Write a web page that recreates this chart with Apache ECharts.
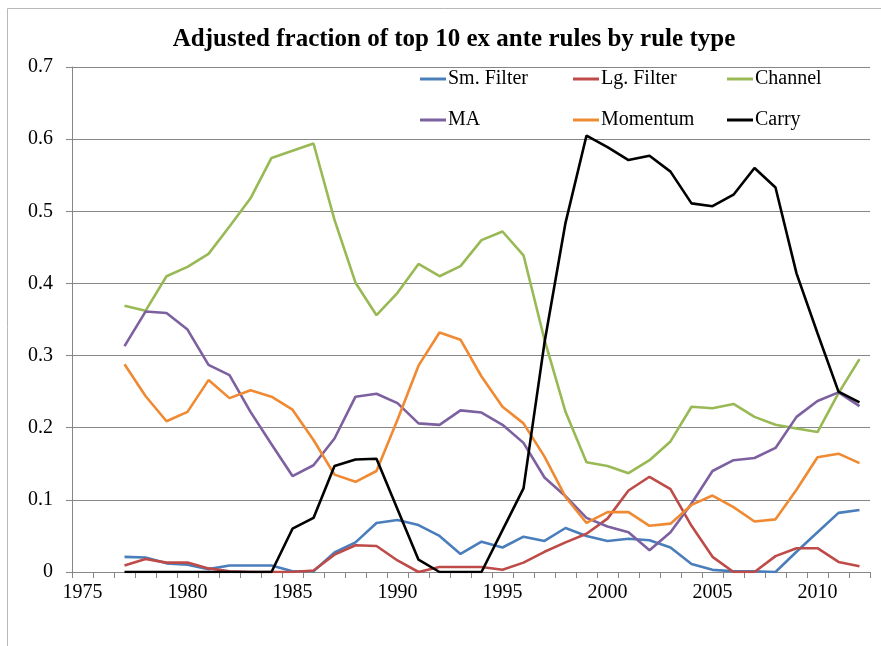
<!DOCTYPE html>
<html>
<head>
<meta charset="utf-8">
<script src="https://cdn.jsdelivr.net/npm/echarts@6/dist/echarts.min.js"></script>
<style>
  html, body { margin: 0; padding: 0; background: #fff; }
  #chart { width: 881px; height: 646px; }
</style>
</head>
<body>
<div id="chart"></div>
<script>
// 年份 (1975-2012), 1975/1976 无数据
var years = [];
for (var y = 1975; y <= 2012; y++) years.push(String(y));

var smFilter = ['-', '-', 0.021, 0.020, 0.012, 0.010, 0.004, 0.009, 0.009, 0.009, 0.001, 0.001, 0.027, 0.041,
  0.068, 0.072, 0.065, 0.050, 0.025, 0.042, 0.034, 0.049, 0.043, 0.061, 0.050, 0.043, 0.046, 0.044,
  0.034, 0.011, 0.003, 0.001, 0.001, 0.000, 0.028, 0.055, 0.082, 0.086];
var lgFilter = ['-', '-', 0.009, 0.018, 0.013, 0.013, 0.005, 0.001, 0.000, 0.000, 0.000, 0.002, 0.024, 0.037,
  0.036, 0.016, 0.000, 0.007, 0.007, 0.007, 0.003, 0.013, 0.028, 0.041, 0.053, 0.074, 0.113, 0.132,
  0.115, 0.064, 0.021, 0.000, 0.000, 0.022, 0.033, 0.033, 0.014, 0.008];
var channel = ['-', '-', 0.369, 0.362, 0.410, 0.423, 0.441, 0.479, 0.518, 0.574, 0.584, 0.594, 0.488, 0.401,
  0.356, 0.387, 0.427, 0.410, 0.424, 0.460, 0.472, 0.439, 0.322, 0.222, 0.152, 0.147, 0.137, 0.155,
  0.181, 0.229, 0.227, 0.233, 0.215, 0.204, 0.199, 0.194, 0.248, 0.295];
var ma = ['-', '-', 0.313, 0.361, 0.359, 0.336, 0.287, 0.273, 0.222, 0.177, 0.133, 0.148, 0.185, 0.243,
  0.247, 0.234, 0.206, 0.204, 0.224, 0.221, 0.204, 0.179, 0.131, 0.105, 0.075, 0.063, 0.055, 0.030,
  0.055, 0.095, 0.140, 0.155, 0.158, 0.172, 0.215, 0.237, 0.249, 0.230];
var momentum = ['-', '-', 0.288, 0.244, 0.209, 0.222, 0.266, 0.241, 0.252, 0.243, 0.225, 0.183, 0.135, 0.125,
  0.140, 0.211, 0.286, 0.332, 0.322, 0.271, 0.229, 0.206, 0.160, 0.104, 0.068, 0.083, 0.083, 0.064,
  0.067, 0.093, 0.106, 0.090, 0.070, 0.073, 0.114, 0.159, 0.164, 0.151];
var carry = ['-', '-', 0, 0, 0, 0, 0, 0, 0, 0, 0.060, 0.075, 0.147, 0.156,
  0.157, 0.087, 0.017, 0, 0, 0, 0.058, 0.116, 0.318, 0.484, 0.605, 0.589, 0.571, 0.577,
  0.555, 0.511, 0.507, 0.523, 0.560, 0.533, 0.414, 0.331, 0.250, 0.235];

var seriesNames = ['Sm. Filter', 'Lg. Filter', 'Channel', 'MA', 'Momentum', 'Carry'];
var seriesData = [smFilter, lgFilter, channel, ma, momentum, carry];
var colors = ['#4a7ebb', '#be4b48', '#98b954', '#7d60a0', '#f08a32', '#000000'];

var serif = '"Liberation Serif", "Times New Roman", serif';

// 图例位置 (两行三列)
var legendPos = [[420, 69], [573, 69], [727, 69], [420, 110], [573, 110], [727, 110]];

var chart = echarts.init(document.getElementById('chart'));
chart.setOption({
  animation: false,
  color: colors,
  title: {
    text: 'Adjusted fraction of top 10 ex ante rules by rule type',
    left: 449,
    textAlign: 'center',
    top: 22,
    textStyle: { fontFamily: serif, fontSize: 25, fontWeight: 'bold', color: '#000' }
  },
  legend: seriesNames.map(function (n, i) {
    return {
      data: [n],
      left: legendPos[i][0],
      top: legendPos[i][1],
      padding: 0,
      icon: 'rect',
      itemWidth: 26,
      itemHeight: 3,
      textStyle: { fontFamily: serif, fontSize: 20, color: '#000', padding: [0, 0, 0, -3] },
      selectedMode: false
    };
  }),
  grid: { left: 72, right: 11, top: 67, bottom: 74, containLabel: false },
  xAxis: {
    type: 'category',
    data: years,
    boundaryGap: true,
    axisLine: { lineStyle: { color: '#868686', width: 1 } },
    axisTick: { show: true, interval: 0, length: 6, lineStyle: { color: '#868686' } },
    axisLabel: { interval: 4, color: '#000', fontFamily: serif, fontSize: 20, margin: 11 },
    splitLine: { show: false }
  },
  yAxis: {
    type: 'value',
    min: 0,
    max: 0.7,
    interval: 0.1,
    axisLine: { show: true, lineStyle: { color: '#868686', width: 1 } },
    axisTick: { show: true, length: 6, lineStyle: { color: '#868686' } },
    axisLabel: {
      color: '#000', fontFamily: serif, fontSize: 20, margin: 19,
      formatter: function (v) { return v === 0 ? '0' : v.toFixed(1); }
    },
    splitLine: { lineStyle: { color: '#868686', width: 1 } }
  },
  graphic: [{
    type: 'polyline',
    shape: { points: [[7.5, 646], [7.5, 8.5], [881, 8.5]] },
    style: { stroke: '#b8b8b8', fill: null, lineWidth: 1 },
    silent: true
  }],
  series: seriesNames.map(function (n, i) {
    return {
      name: n,
      type: 'line',
      data: seriesData[i],
      symbol: 'none',
      lineStyle: { width: 2.6, color: colors[i] },
      z: i === 5 ? 3 : 2
    };
  })
});
</script>
</body>
</html>
